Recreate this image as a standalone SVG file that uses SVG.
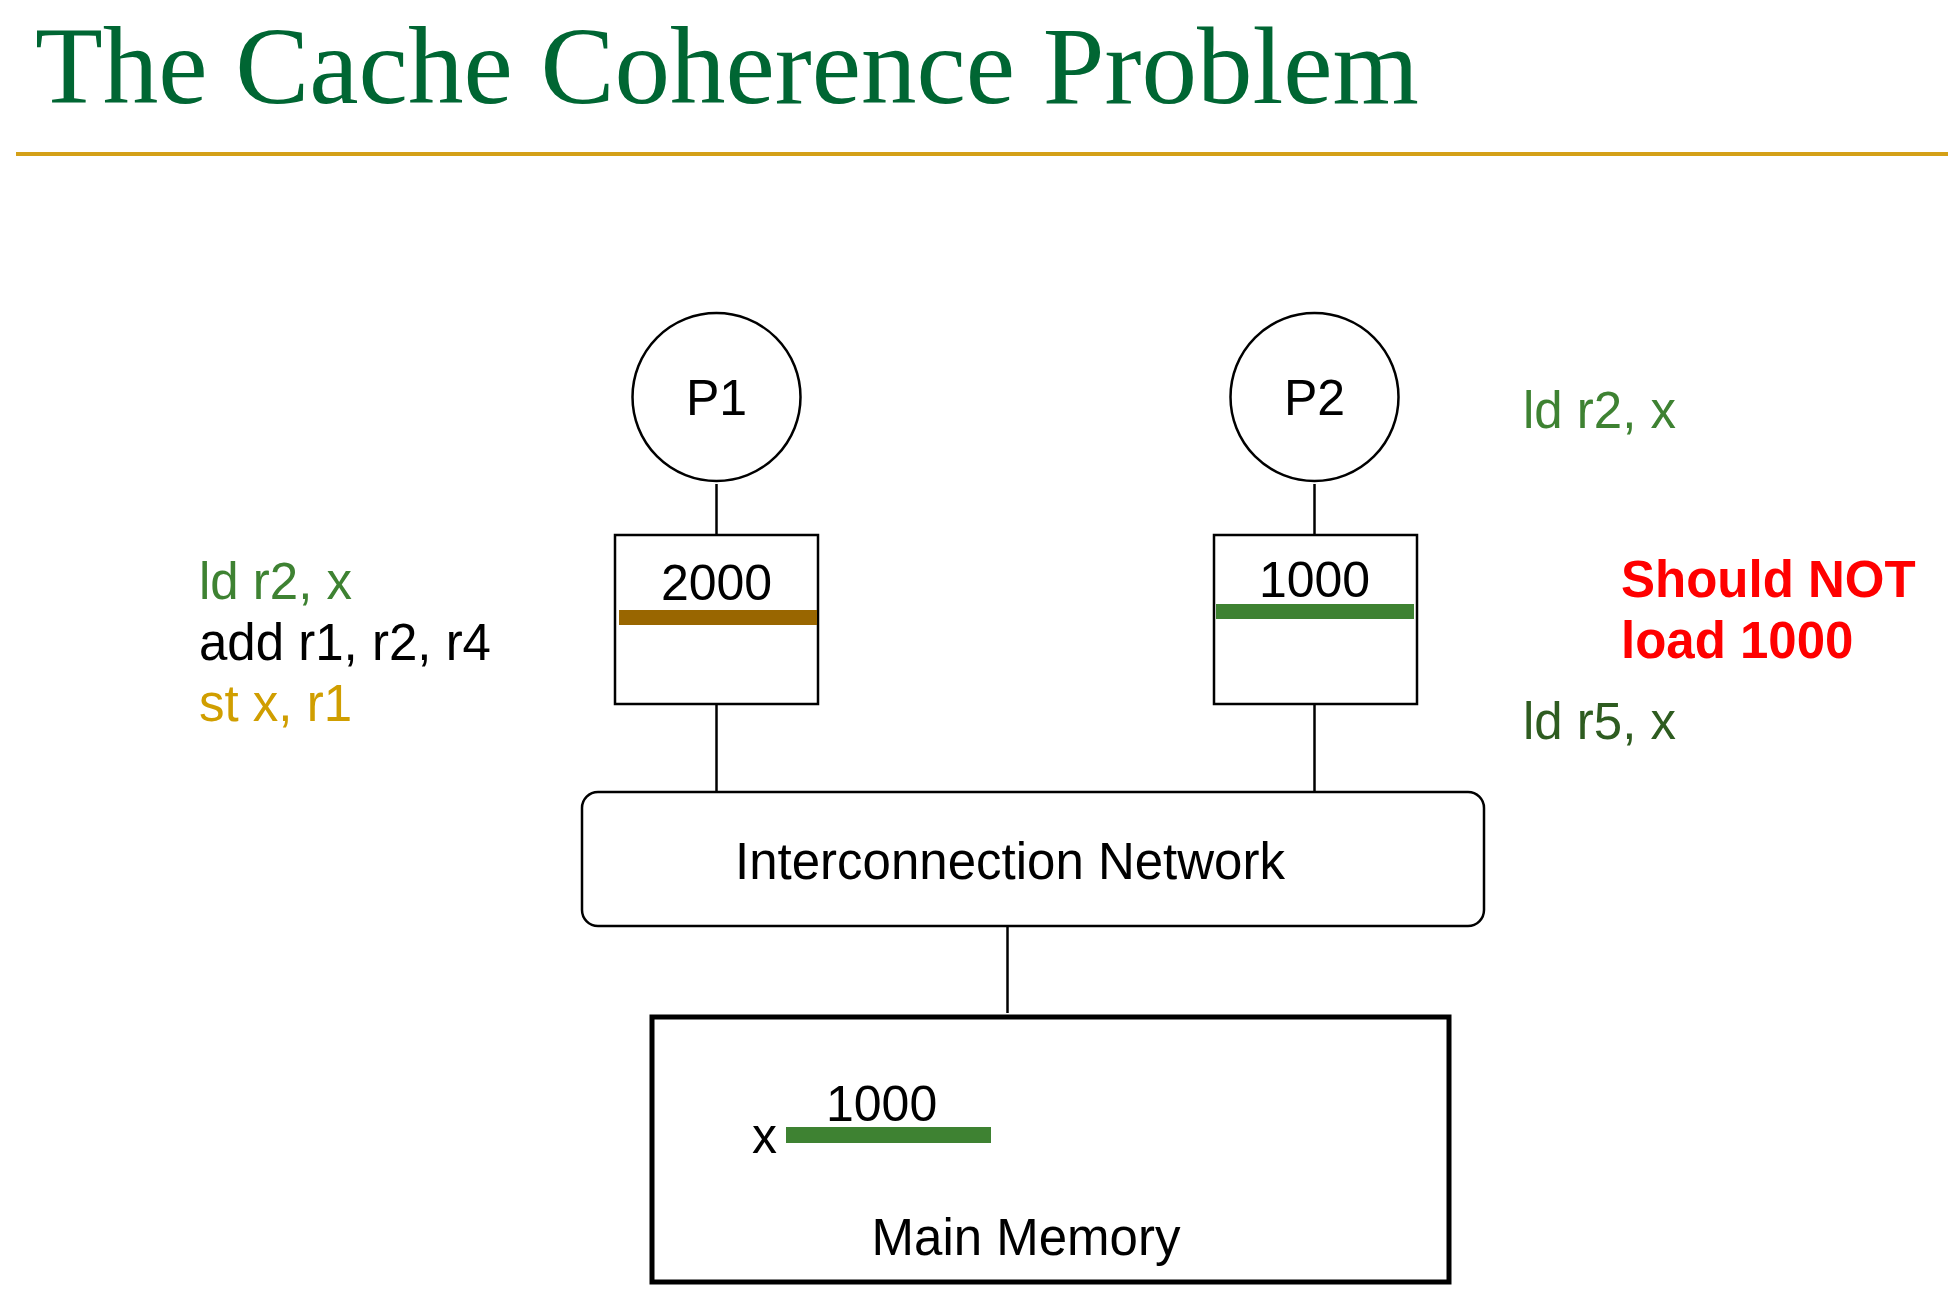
<svg xmlns="http://www.w3.org/2000/svg" width="1950" height="1310" viewBox="0 0 1950 1310">
<style>
.t{font-family:"Liberation Sans",Arial,sans-serif;font-size:50px;fill:#000}
.s{font-size:51px}
.c{text-anchor:middle}
.shape{fill:#fff;stroke:#000;stroke-width:2.5}
.conn{stroke:#000;stroke-width:2.5;fill:none}
.g1{fill:#3E8232}
.g2{fill:#2E5C20}
.gold{fill:#D09E00}
.red{fill:#FF0000;font-weight:bold}
</style>
<rect width="1950" height="1310" fill="#fff"/>
<g id="title">
<text x="35" y="103" style="font-family:'Liberation Serif','Times New Roman',serif;font-size:111px;fill:#006633">The Cache Coherence Problem</text>
<rect x="16" y="152" width="1932" height="4" fill="#D4A017"/>
</g>
<g id="connectors">
<line class="conn" x1="716.5" y1="484" x2="716.5" y2="534"/>
<line class="conn" x1="1314.5" y1="484" x2="1314.5" y2="534"/>
<line class="conn" x1="716.5" y1="705" x2="716.5" y2="791"/>
<line class="conn" x1="1314.5" y1="705" x2="1314.5" y2="791"/>
<line class="conn" x1="1007.5" y1="927" x2="1007.5" y2="1013"/>
</g>
<g id="p1">
<circle class="shape" cx="716.5" cy="397" r="84"/>
<text class="t c" x="716.5" y="415">P1</text>
</g>
<g id="p2">
<circle class="shape" cx="1314.5" cy="397" r="84"/>
<text class="t c" x="1314.5" y="415">P2</text>
</g>
<g id="cache1">
<rect class="shape" x="615" y="535" width="203" height="169"/>
<text class="t c" x="716.5" y="600">2000</text>
<rect x="619" y="610" width="198" height="15" fill="#996600"/>
</g>
<g id="cache2">
<rect class="shape" x="1214" y="535" width="203" height="169"/>
<text class="t c" x="1314.5" y="597">1000</text>
<rect x="1216" y="604" width="198" height="15" fill="#3E8232"/>
</g>
<g id="network">
<rect class="shape" x="582" y="792" width="902" height="134" rx="16"/>
<text class="t c s" x="1010" y="879">Interconnection Network</text>
</g>
<g id="memory">
<rect x="652" y="1017" width="797" height="265" fill="#fff" stroke="#000" stroke-width="5"/>
<text class="t" x="752" y="1153">x</text>
<text class="t" x="826" y="1121">1000</text>
<rect x="786" y="1127" width="205" height="16" fill="#3E8232"/>
<text class="t c s" x="1026" y="1255">Main Memory</text>
</g>
<g id="p1-code">
<text class="t s g1" x="199" y="599">ld r2, x</text>
<text class="t s" x="199" y="660">add r1, r2, r4</text>
<text class="t s gold" x="199" y="721">st x, r1</text>
</g>
<g id="p2-code">
<text class="t s g1" x="1523" y="428">ld r2, x</text>
<text class="t s g2" x="1523" y="739">ld r5, x</text>
</g>
<g id="warning">
<text class="t s red" x="1621" y="597">Should NOT</text>
<text class="t s red" x="1621" y="658">load 1000</text>
</g>
</svg>
